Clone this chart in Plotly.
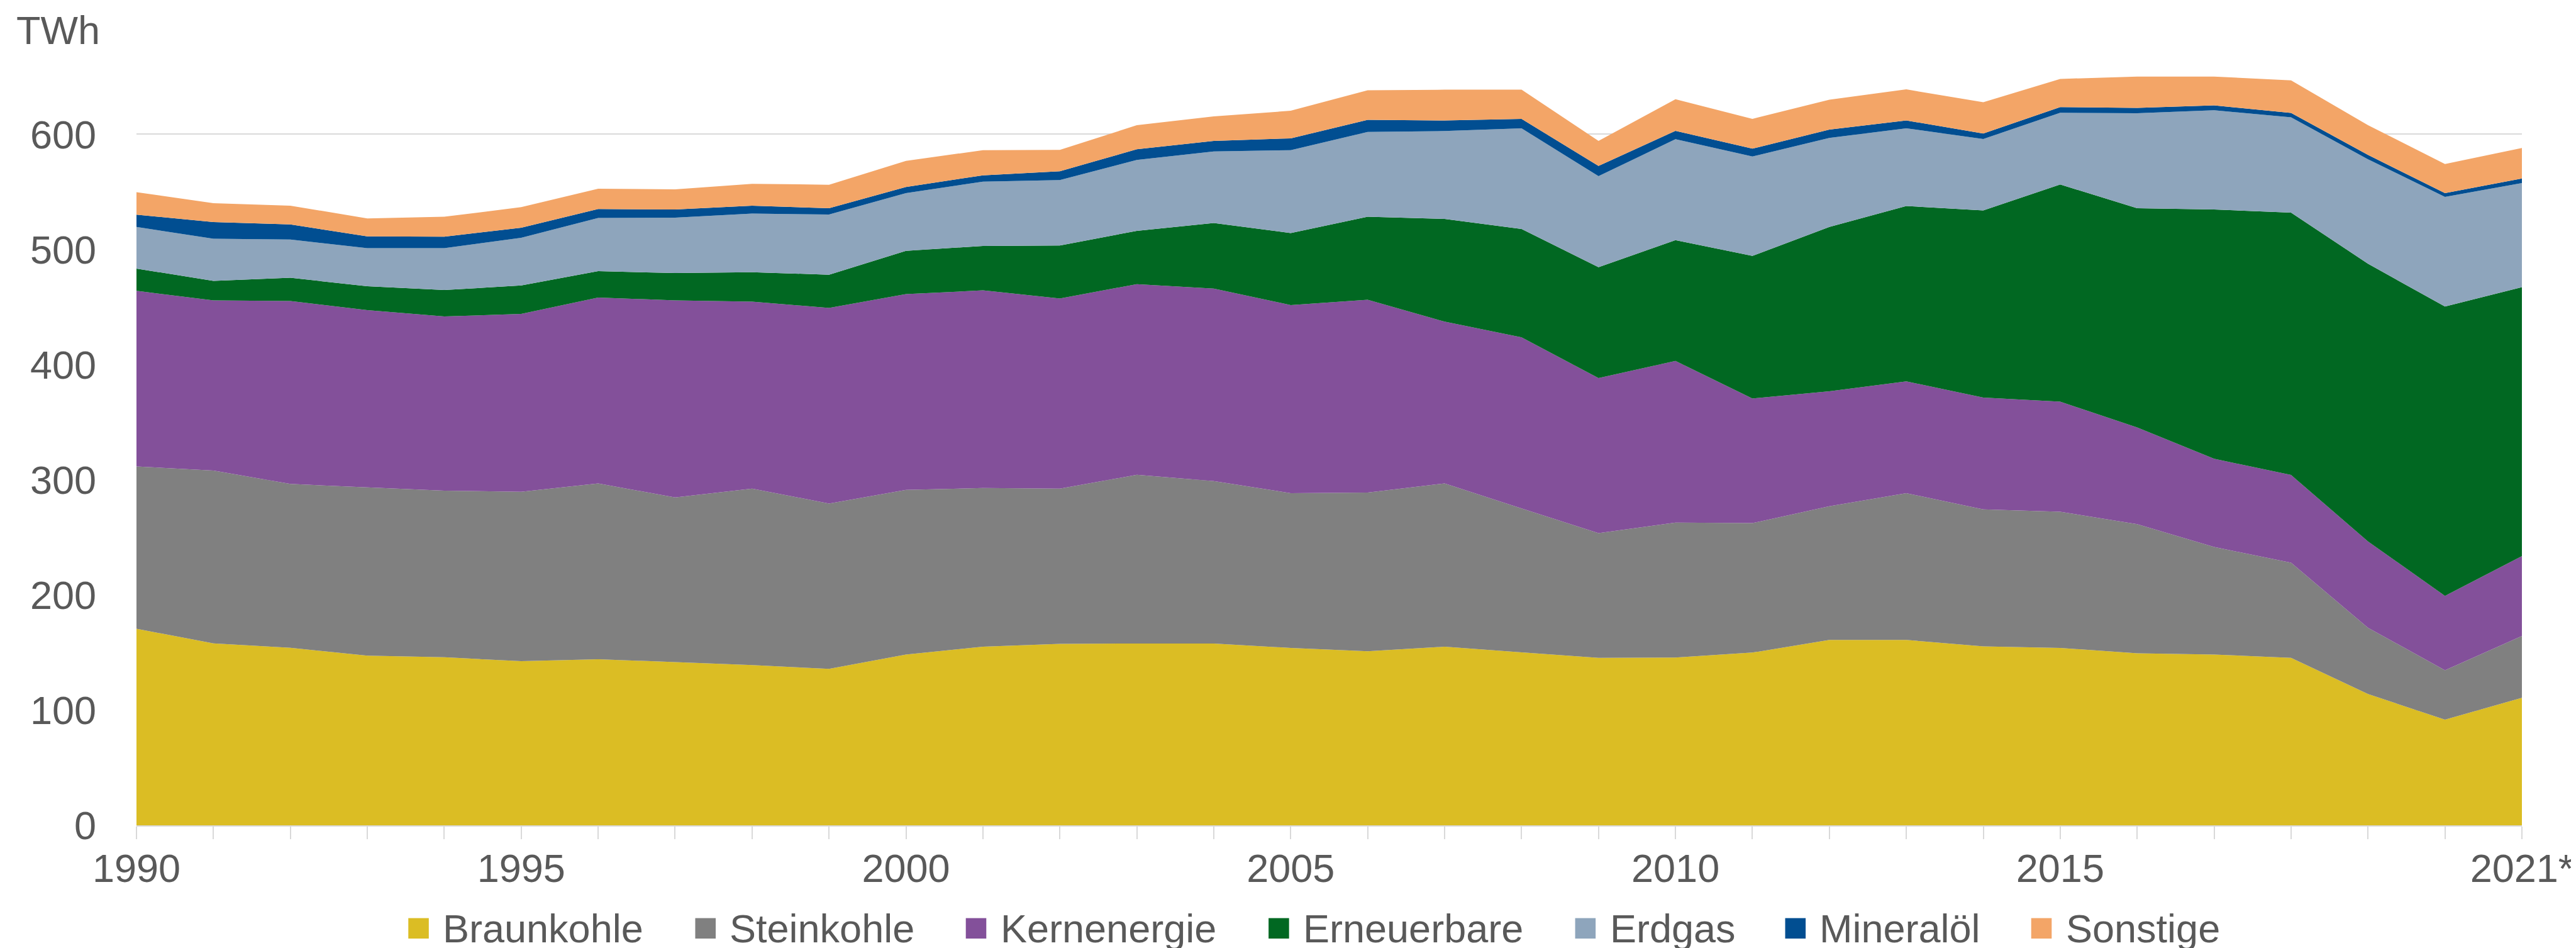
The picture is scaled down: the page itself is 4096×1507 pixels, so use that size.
import plotly.graph_objects as go

# ---------------- data (TWh) ----------------
years = list(range(1990, 2022))
tick_labels = {1990: "1990", 1995: "1995", 2000: "2000", 2005: "2005",
               2010: "2010", 2015: "2015", 2021: "2021*"}

braunkohle = [170.7, 158.0, 154.2, 147.3, 145.9, 142.5, 144.2, 141.8, 139.2, 135.8,
              148.3, 155.1, 157.6, 157.9, 157.9, 154.0, 151.1, 155.1, 150.2, 145.4,
              145.7, 150.0, 161.0, 161.0, 155.4, 154.0, 149.4, 148.3, 145.4, 114.0,
              91.7, 110.8]
steinkohle = [140.9, 150.1, 142.2, 146.1, 144.7, 147.1, 152.6, 142.9, 153.2, 143.6,
              142.9, 137.8, 134.8, 146.4, 141.0, 134.4, 137.9, 141.8, 124.9, 108.3,
              117.2, 112.4, 116.1, 127.4, 118.9, 118.3, 112.1, 93.4, 82.6, 57.5,
              43.0, 53.6]
kernenergie = [152.5, 147.7, 158.8, 153.9, 151.2, 154.4, 161.5, 171.1, 162.3, 169.9,
               170.0, 171.6, 165.0, 165.6, 167.2, 163.3, 167.3, 140.4, 148.6, 134.6,
               140.3, 108.2, 99.8, 97.1, 97.1, 95.5, 84.0, 76.6, 76.2, 75.0,
               64.5, 69.4]
erneuerbare = [19.3, 16.9, 20.2, 20.8, 23.0, 24.7, 22.9, 23.7, 25.6, 28.8,
               37.6, 38.6, 46.0, 46.3, 56.9, 62.6, 72.2, 89.2, 94.1, 96.3,
               104.9, 123.8, 142.6, 152.2, 162.5, 188.6, 190.3, 216.4, 227.8, 241.1,
               251.2, 233.4]
erdgas = [36.1, 36.6, 33.2, 33.0, 36.3, 41.5, 46.1, 48.1, 50.9, 52.2,
          50.1, 55.8, 56.9, 61.5, 62.1, 71.9, 73.5, 76.3, 87.4, 79.0,
          87.6, 86.3, 77.3, 67.5, 62.0, 62.3, 82.5, 86.2, 82.7, 90.7,
          95.2, 90.4]
mineraloel = [10.7, 14.5, 13.1, 10.2, 10.0, 8.7, 7.8, 7.1, 6.8, 5.5,
              5.4, 5.5, 7.6, 9.3, 9.2, 10.3, 10.6, 9.2, 8.2, 8.9,
              7.3, 6.8, 7.3, 6.8, 4.7, 4.9, 4.6, 4.2, 3.8, 3.8,
              3.3, 4.0]
sonstige = [19.6, 16.4, 16.3, 15.7, 17.3, 17.8, 17.6, 17.5, 19.0, 20.4,
            22.6, 21.8, 18.5, 20.9, 21.2, 23.9, 25.6, 26.7, 25.3, 21.8,
            27.5, 25.9, 25.9, 27.0, 27.2, 24.5, 27.2, 25.0, 28.3, 25.8,
            25.3, 26.5]

series_names = ["Braunkohle", "Steinkohle", "Kernenergie", "Erneuerbare",
                "Erdgas", "Mineralöl", "Sonstige"]
series_values = [braunkohle, steinkohle, kernenergie, erneuerbare,
                 erdgas, mineraloel, sonstige]
series_colors = ["#DBBD24", "#808080", "#83509A", "#016822",
                 "#8EA5BC", "#014E91", "#F3A567"]

# ---------------- layout geometry (px) ----------------
W, H = 4096, 1507
ML, MR, MT, MB = 209, 90, 59, 203
PW, PH = W - ML - MR, H - MT - MB
FONT = "Liberation Sans, Arial, sans-serif"
TXT = "#595959"
GRID = "#D9D9D9"
FS = 63


def px_x(px):
    return (px - ML) / PW


def px_y(py):
    return (H - MB - py) / PH


fig = go.Figure()
for name, vals, col in zip(series_names, series_values, series_colors):
    fig.add_trace(go.Scatter(
        x=years, y=vals, name=name, stackgroup="one", mode="none",
        fillcolor=col, line=dict(width=0), hoveron="fills+points",
        showlegend=False,
    ))

# manual legend (swatches + labels)
legend_left = [641.7, 1098.4, 1529.1, 2011.0, 2499.0, 2833.3, 3224.9]
sw = 32.6
sw_top = 1451.5
shapes = []
annotations = []
for lx, name, col in zip(legend_left, series_names, series_colors):
    shapes.append(dict(type="rect", xref="paper", yref="paper",
                       x0=px_x(lx), x1=px_x(lx + sw),
                       y0=px_y(sw_top + sw), y1=px_y(sw_top),
                       fillcolor=col, line=dict(width=0)))
    annotations.append(dict(xref="paper", yref="paper", x=px_x(lx + 53),
                            y=px_y(sw_top + sw / 2), xanchor="left",
                            yanchor="middle", text=name, showarrow=False,
                            font=dict(family=FONT, size=FS, color=TXT)))

annotations.append(dict(xref="paper", yref="paper", x=px_x(16), y=px_y(40),
                        xanchor="left", yanchor="middle", text="TWh",
                        showarrow=False,
                        font=dict(family=FONT, size=FS, color=TXT)))

fig.update_layout(
    width=W, height=H,
    margin=dict(l=ML, r=MR, t=MT, b=MB, pad=0),
    paper_bgcolor="white", plot_bgcolor="white",
    font=dict(family=FONT, size=FS, color=TXT),
    showlegend=False,
    shapes=shapes,
    annotations=annotations,
    xaxis=dict(
        range=[1990, 2021], tickmode="array", tickvals=years,
        ticktext=[tick_labels.get(y, "") for y in years],
        ticks="outside", ticklen=20, tickwidth=2, tickcolor=GRID,
        showline=True, linecolor=GRID, linewidth=2,
        showgrid=False, zeroline=False,
        tickfont=dict(family=FONT, size=FS, color=TXT),
        ticklabelstandoff=-8,
    ),
    yaxis=dict(
        range=[0, 680], tickmode="array", tickvals=[0, 100, 200, 300, 400, 500, 600],
        showgrid=True, gridcolor=GRID, gridwidth=2, zeroline=False,
        showline=False, ticks="",
        tickfont=dict(family=FONT, size=FS, color=TXT),
        ticklabelstandoff=63,
    ),
)

fig.write_html("out.html")
